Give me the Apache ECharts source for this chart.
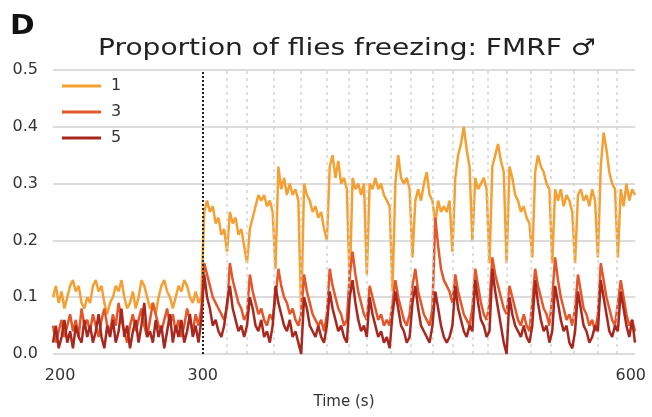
<!DOCTYPE html>
<html><head><meta charset="utf-8">
<script src="https://cdn.jsdelivr.net/npm/echarts@6/dist/echarts.min.js"></script>
<style>html,body{margin:0;padding:0;background:#fff}#c{width:652px;height:417px}</style>
</head><body><div id="c"></div>
<script>
// sampling grid: one reading every 2 s from 195 s to 603 s
const tStart = 195, tStep = 2;
const seriesNames = ['1', '3', '5'];
const stimTimes = [317, 331, 350, 369, 387, 402, 415, 432, 446, 461, 475, 489, 500, 513, 530, 544, 560, 577, 590];
const onsetTime = 300;
const xTickLabels = [200, 300, 600];

const s1 = [
 0.10,0.12,0.09,0.11,0.08,0.10,0.12,0.13,0.11,0.12,
 0.09,0.08,0.10,0.09,0.12,0.13,0.11,0.12,0.09,0.07,
 0.09,0.10,0.12,0.11,0.13,0.10,0.08,0.09,0.11,0.08,
 0.10,0.13,0.12,0.10,0.08,0.09,0.07,0.10,0.12,0.13,
 0.11,0.10,0.08,0.10,0.12,0.11,0.13,0.12,0.10,0.09,
 0.11,0.09,0.10,
 0.25,0.27,0.25,0.26,0.23,0.24,0.21,0.22,0.18,0.25,
 0.23,0.24,0.21,0.22,0.19,0.16,0.22,0.24,0.26,0.28,
 0.27,0.28,0.26,0.27,0.25,0.15,0.33,0.29,0.31,0.28,
 0.30,0.28,0.29,0.27,0.07,0.30,0.28,0.27,0.25,0.26,
 0.24,0.25,0.22,0.20,0.33,0.35,0.31,0.34,0.30,0.31,
 0.29,0.12,0.31,0.29,0.30,0.28,0.30,0.14,0.30,0.29,
 0.31,0.29,0.30,0.28,0.27,0.26,0.11,0.30,0.35,0.31,
 0.30,0.31,0.29,0.17,0.27,0.29,0.27,0.30,0.32,0.28,
 0.27,0.23,0.27,0.25,0.26,0.25,0.27,0.18,0.31,0.35,
 0.37,0.40,0.36,0.33,0.20,0.31,0.29,0.30,0.31,0.29,
 0.16,0.33,0.35,0.37,0.34,0.32,0.16,0.33,0.31,0.28,
 0.27,0.25,0.26,0.24,0.23,0.17,0.32,0.35,0.33,0.32,
 0.30,0.29,0.16,0.29,0.27,0.29,0.26,0.28,0.27,0.25,
 0.16,0.28,0.29,0.27,0.28,0.26,0.29,0.27,0.17,0.33,
 0.39,0.36,0.32,0.30,0.29,0.17,0.29,0.26,0.30,0.27,
 0.29,0.28
];
const s3 = [
 0.05,0.02,0.04,0.06,0.03,0.05,0.07,0.04,0.06,0.03,
 0.08,0.05,0.06,0.04,0.07,0.05,0.03,0.06,0.08,0.05,
 0.04,0.07,0.05,0.09,0.06,0.04,0.02,0.05,0.07,0.04,
 0.06,0.08,0.05,0.03,0.06,0.09,0.07,0.05,0.04,0.06,
 0.08,0.05,0.07,0.04,0.06,0.03,0.05,0.08,0.06,0.04,
 0.07,0.05,0.08,
 0.16,0.14,0.12,0.10,0.09,0.08,0.07,0.06,0.08,0.16,
 0.13,0.11,0.09,0.08,0.06,0.07,0.14,0.11,0.09,0.07,
 0.08,0.06,0.05,0.07,0.06,0.10,0.15,0.12,0.10,0.09,
 0.07,0.08,0.06,0.05,0.07,0.14,0.11,0.09,0.07,0.06,
 0.05,0.06,0.04,0.07,0.15,0.12,0.10,0.08,0.07,0.05,
 0.06,0.14,0.18,0.14,0.11,0.09,0.07,0.06,0.12,0.10,
 0.08,0.06,0.07,0.05,0.06,0.05,0.09,0.13,0.10,0.08,
 0.06,0.05,0.07,0.12,0.15,0.11,0.09,0.07,0.06,0.05,
 0.08,0.24,0.19,0.15,0.13,0.12,0.11,0.09,0.14,0.11,
 0.09,0.07,0.06,0.05,0.08,0.15,0.12,0.09,0.07,0.06,
 0.09,0.17,0.14,0.12,0.10,0.08,0.07,0.12,0.10,0.08,
 0.06,0.05,0.07,0.05,0.04,0.09,0.15,0.12,0.10,0.08,
 0.07,0.05,0.10,0.17,0.13,0.10,0.08,0.06,0.07,0.05,
 0.08,0.14,0.11,0.08,0.07,0.05,0.06,0.04,0.07,0.16,
 0.13,0.10,0.08,0.06,0.05,0.09,0.13,0.10,0.07,0.05,
 0.06,0.04
];
const s5 = [
 0.02,0.05,0.01,0.03,0.06,0.02,0.04,0.01,0.05,0.03,
 0.02,0.06,0.03,0.05,0.02,0.04,0.07,0.03,0.01,0.05,
 0.03,0.06,0.02,0.04,0.08,0.03,0.05,0.01,0.04,0.06,
 0.02,0.05,0.09,0.03,0.04,0.02,0.06,0.03,0.05,0.01,
 0.04,0.07,0.02,0.05,0.03,0.06,0.02,0.04,0.07,0.03,
 0.05,0.02,0.06,
 0.14,0.10,0.08,0.05,0.06,0.04,0.03,0.05,0.09,0.12,
 0.08,0.06,0.04,0.05,0.03,0.05,0.10,0.08,0.05,0.04,
 0.06,0.03,0.04,0.02,0.05,0.12,0.09,0.07,0.05,0.04,
 0.06,0.03,0.04,0.02,0.00,0.10,0.08,0.05,0.04,0.03,
 0.05,0.03,0.02,0.05,0.11,0.08,0.06,0.04,0.05,0.03,
 0.02,0.10,0.13,0.09,0.06,0.04,0.05,0.03,0.10,0.07,
 0.05,0.03,0.04,0.02,0.03,0.01,0.07,0.11,0.08,0.05,
 0.04,0.02,0.03,0.09,0.12,0.08,0.05,0.04,0.03,0.02,
 0.05,0.11,0.08,0.05,0.03,0.02,0.03,0.05,0.12,0.08,
 0.06,0.04,0.03,0.05,0.04,0.13,0.09,0.06,0.05,0.03,
 0.04,0.15,0.11,0.08,0.05,0.02,0.00,0.10,0.07,0.05,
 0.04,0.03,0.05,0.03,0.02,0.05,0.13,0.09,0.06,0.04,
 0.05,0.02,0.04,0.12,0.09,0.06,0.04,0.05,0.02,0.01,
 0.04,0.11,0.08,0.05,0.04,0.02,0.03,0.05,0.04,0.13,
 0.10,0.07,0.04,0.03,0.05,0.04,0.11,0.08,0.05,0.03,
 0.06,0.02
];

const colors = ['#f5a033', '#e4572a', '#a8281f'];
const FONT = 'DejaVu Sans';
const toPairs = vals => vals.map((v, i) => [tStart + i * tStep, v]);

const chart = echarts.init(document.getElementById('c'), null, {renderer: 'canvas'});
const markData = [{xAxis: onsetTime, lineStyle: {color: '#222', type: [2, 2], width: 2}}]
  .concat(stimTimes.map(t => ({xAxis: t, lineStyle: {color: '#d4d4d4', type: [3, 4], width: 1.5}})));

chart.setOption({
  animation: false,
  color: colors,
  textStyle: {fontFamily: FONT},
  graphic: [
    {type: 'text', x: 347, y: 49, scaleX: 1.22, scaleY: 1,
     style: {text: 'Proportion of flies freezing: FMRF \u2642', x: 0, y: 0, align: 'center', verticalAlign: 'middle',
             font: 'normal 23px "DejaVu Sans"', fill: '#222'}},
    {type: 'text', x: 10, y: 27, scaleX: 1.1,
     style: {text: 'D', x: 0, y: 0, align: 'left', verticalAlign: 'middle',
             font: 'bold 27px "DejaVu Sans"', fill: '#111'}}
  ],
  legend: {
    orient: 'vertical', left: 57, top: 73, itemGap: 10, itemWidth: 39, itemHeight: 3,
    icon: 'rect', data: seriesNames,
    textStyle: {fontFamily: FONT, fontSize: 16, color: '#333', padding: [0, 0, 0, 5]}
  },
  grid: {left: 53, right: 17, top: 70, bottom: 63},
  xAxis: {
    type: 'value', min: 195, max: 603,
    axisLine: {show: false}, axisTick: {show: false}, splitLine: {show: false},
    axisLabel: {customValues: xTickLabels, fontFamily: FONT, fontSize: 16, color: '#333', margin: 14},
    name: 'Time (s)', nameLocation: 'middle', nameGap: 41,
    nameTextStyle: {fontFamily: FONT, fontSize: 15, color: '#333'}
  },
  yAxis: {
    type: 'value', min: 0, max: 0.5, interval: 0.1,
    axisLine: {show: false}, axisTick: {show: false},
    splitLine: {lineStyle: {color: '#dcdcdc', width: 2}},
    axisLabel: {formatter: v => v.toFixed(1), fontFamily: FONT, fontSize: 16, color: '#333', margin: 15}
  },
  series: [
    {name: seriesNames[0], type: 'line', data: toPairs(s1), showSymbol: false, lineStyle: {width: 2.5}, z: 3,
     markLine: {silent: true, symbol: 'none', label: {show: false}, data: markData}},
    {name: seriesNames[1], type: 'line', data: toPairs(s3), showSymbol: false, lineStyle: {width: 2.5}, z: 4},
    {name: seriesNames[2], type: 'line', data: toPairs(s5), showSymbol: false, lineStyle: {width: 2.5}, z: 5}
  ]
});
</script></body></html>
